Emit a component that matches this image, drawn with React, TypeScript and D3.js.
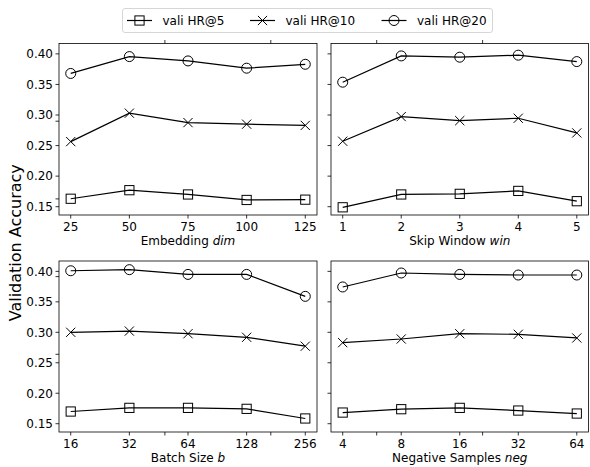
import React from 'react';
import * as d3 from 'd3';

// x values of the four panels
const dimValues = [25, 50, 75, 100, 125];
const winValues = [1, 2, 3, 4, 5];
const batchValues = [16, 32, 64, 128, 256];
const negValues = [4, 8, 16, 32, 64];

// vali HR@5 / HR@10 / HR@20
const dimHR5 = [0.163, 0.177, 0.170, 0.161, 0.1615];
const dimHR10 = [0.2565, 0.303, 0.2876, 0.285, 0.283];
const dimHR20 = [0.368, 0.3956, 0.3885, 0.3766, 0.383];

const winHR5 = [0.149, 0.170, 0.171, 0.1758, 0.159];
const winHR10 = [0.2571, 0.2974, 0.2908, 0.2947, 0.2707];
const winHR20 = [0.3537, 0.3967, 0.3946, 0.3979, 0.3874];

const batchHR5 = [0.170, 0.176, 0.176, 0.1744, 0.1586];
const batchHR10 = [0.300, 0.302, 0.2977, 0.2918, 0.2772];
const batchHR20 = [0.401, 0.4028, 0.395, 0.395, 0.359];

const negHR5 = [0.1683, 0.1738, 0.176, 0.1716, 0.1667];
const negHR10 = [0.283, 0.289, 0.2977, 0.2967, 0.2907];
const negHR20 = [0.3744, 0.3973, 0.395, 0.394, 0.394];

const seriesNames = ['vali HR@5', 'vali HR@10', 'vali HR@20'];
const markerKinds = ['square', 'x', 'circle'];
const yTicks = [0.15, 0.2, 0.25, 0.3, 0.35, 0.4];
const yDomain = [0.1364, 0.417];

const W = 590;
const H = 467;
const font = 'DejaVu Sans, sans-serif';

const cols = [[59, 317], [331, 588.5]];
const rows = [[43.5, 215], [261, 432]];

const panels = [
  { xs: dimValues, series: [dimHR5, dimHR10, dimHR20], log: false, label: 'Embedding ', it: 'dim', col: 0, row: 0 },
  { xs: winValues, series: [winHR5, winHR10, winHR20], log: false, label: 'Skip Window ', it: 'win', col: 1, row: 0 },
  { xs: batchValues, series: [batchHR5, batchHR10, batchHR20], log: true, label: 'Batch Size ', it: 'b', col: 0, row: 1 },
  { xs: negValues, series: [negHR5, negHR10, negHR20], log: true, label: 'Negative Samples ', it: 'neg', col: 1, row: 1 },
];

function Marker({ kind, x, y }: { kind: string; x: number; y: number }) {
  const r = 4.6;
  if (kind === 'square')
    return <rect x={x - r} y={y - r} width={2 * r} height={2 * r} fill="none" stroke="#000" strokeWidth={1} />;
  if (kind === 'circle') return <circle cx={x} cy={y} r={r + 0.4} fill="none" stroke="#000" strokeWidth={1} />;
  return (
    <path d={`M${x - r},${y - r}L${x + r},${y + r}M${x - r},${y + r}L${x + r},${y - r}`} stroke="#000" strokeWidth={1} />
  );
}

function Panel({ p }: { p: (typeof panels)[number] }) {
  const [x0, x1] = cols[p.col];
  const [y0, y1] = rows[p.row];
  let xScale: any;
  if (p.log) {
    const lo = Math.log2(p.xs[0]);
    const hi = Math.log2(p.xs[p.xs.length - 1]);
    const pad = (hi - lo) * 0.05;
    xScale = d3.scaleLog().base(2).domain([2 ** (lo - pad), 2 ** (hi + pad)]).range([x0, x1]);
  } else {
    const lo = p.xs[0];
    const hi = p.xs[p.xs.length - 1];
    const pad = (hi - lo) * 0.05;
    xScale = d3.scaleLinear().domain([lo - pad, hi + pad]).range([x0, x1]);
  }
  const yScale = d3.scaleLinear().domain(yDomain).range([y1, y0]);
  const line = d3
    .line<number>()
    .x((_, i) => xScale(p.xs[i]))
    .y((d) => yScale(d));
  return (
    <g>
      {yTicks.map((t) => (
        <g key={t}>
          <line x1={x0} x2={x0 - 3.5} y1={yScale(t)} y2={yScale(t)} stroke="#000" strokeWidth={0.8} />
          {p.col === 0 && (
            <text x={x0 - 6} y={yScale(t)} dy="0.36em" textAnchor="end" fontSize={12} fontFamily={font}>
              {t.toFixed(2)}
            </text>
          )}
        </g>
      ))}
      {p.xs.map((v) => (
        <g key={v}>
          <line x1={xScale(v)} x2={xScale(v)} y1={y1} y2={y1 + 3.5} stroke="#000" strokeWidth={0.8} />
          <text x={xScale(v)} y={y1 + 16} textAnchor="middle" fontSize={12} fontFamily={font}>
            {v}
          </text>
        </g>
      ))}
      <text x={(x0 + x1) / 2} y={y1 + 29.5} textAnchor="middle" fontSize={12} fontFamily={font}>
        {p.label}
        <tspan fontStyle="italic">{p.it}</tspan>
      </text>
      {p.series.map((s, si) => (
        <g key={si}>
          <path d={line(s) || ''} fill="none" stroke="#000" strokeWidth={1.2} />
          {s.map((v, i) => (
            <Marker key={i} kind={markerKinds[si]} x={xScale(p.xs[i])} y={yScale(v)} />
          ))}
        </g>
      ))}
      <rect x={x0} y={y0} width={x1 - x0} height={y1 - y0} fill="none" stroke="#000" strokeWidth={0.8} />
    </g>
  );
}

function Legend() {
  const handleX = [127, 250, 381.5];
  const y = 20.5;
  return (
    <g>
      <rect x={122.5} y={8.5} width={370} height={24} rx={2.5} fill="#fff" stroke="#ccc" strokeWidth={0.8} />
      {seriesNames.map((n, i) => (
        <g key={n}>
          <line x1={handleX[i]} x2={handleX[i] + 25} y1={y} y2={y} stroke="#000" strokeWidth={1.2} />
          <Marker kind={markerKinds[i]} x={handleX[i] + 12.5} y={y} />
          <text x={handleX[i] + 35.5} y={y} dy="0.36em" fontSize={12} fontFamily={font}>
            {n}
          </text>
        </g>
      ))}
    </g>
  );
}

export default function App() {
  // ticks of the invisible full-size axes behind the grid
  const bigX = d3.scaleLinear().domain([0, 1]).range([cols[0][0], cols[1][1]]);
  const bigY = d3.scaleLinear().domain([0, 1]).range([rows[1][1], rows[0][0]]);
  const bigTicks = [0.2, 0.4, 0.6, 0.8];
  return (
    <svg width={W} height={H} style={{ position: 'absolute', left: 0, top: 0, background: '#fff' }}>
      <rect width={W} height={H} fill="#fff" />
      {bigTicks.map((t) => (
        <g key={t} stroke="#000" strokeWidth={0.8}>
          <line x1={bigX(t)} x2={bigX(t)} y1={rows[0][0]} y2={rows[0][0] - 3.5} />
          <line x1={bigX(t)} x2={bigX(t)} y1={rows[1][1]} y2={rows[1][1] + 3.5} />
          <line x1={cols[0][0]} x2={cols[0][0] - 3.5} y1={bigY(t)} y2={bigY(t)} />
        </g>
      ))}
      {panels.map((p, i) => (
        <Panel key={i} p={p} />
      ))}
      <text
        transform={`translate(20.5,${(rows[0][0] + rows[1][1]) / 2 + 5}) rotate(-90)`}
        textAnchor="middle"
        fontSize={16}
        fontFamily={font}
      >
        Validation Accuracy
      </text>
      <Legend />
    </svg>
  );
}
